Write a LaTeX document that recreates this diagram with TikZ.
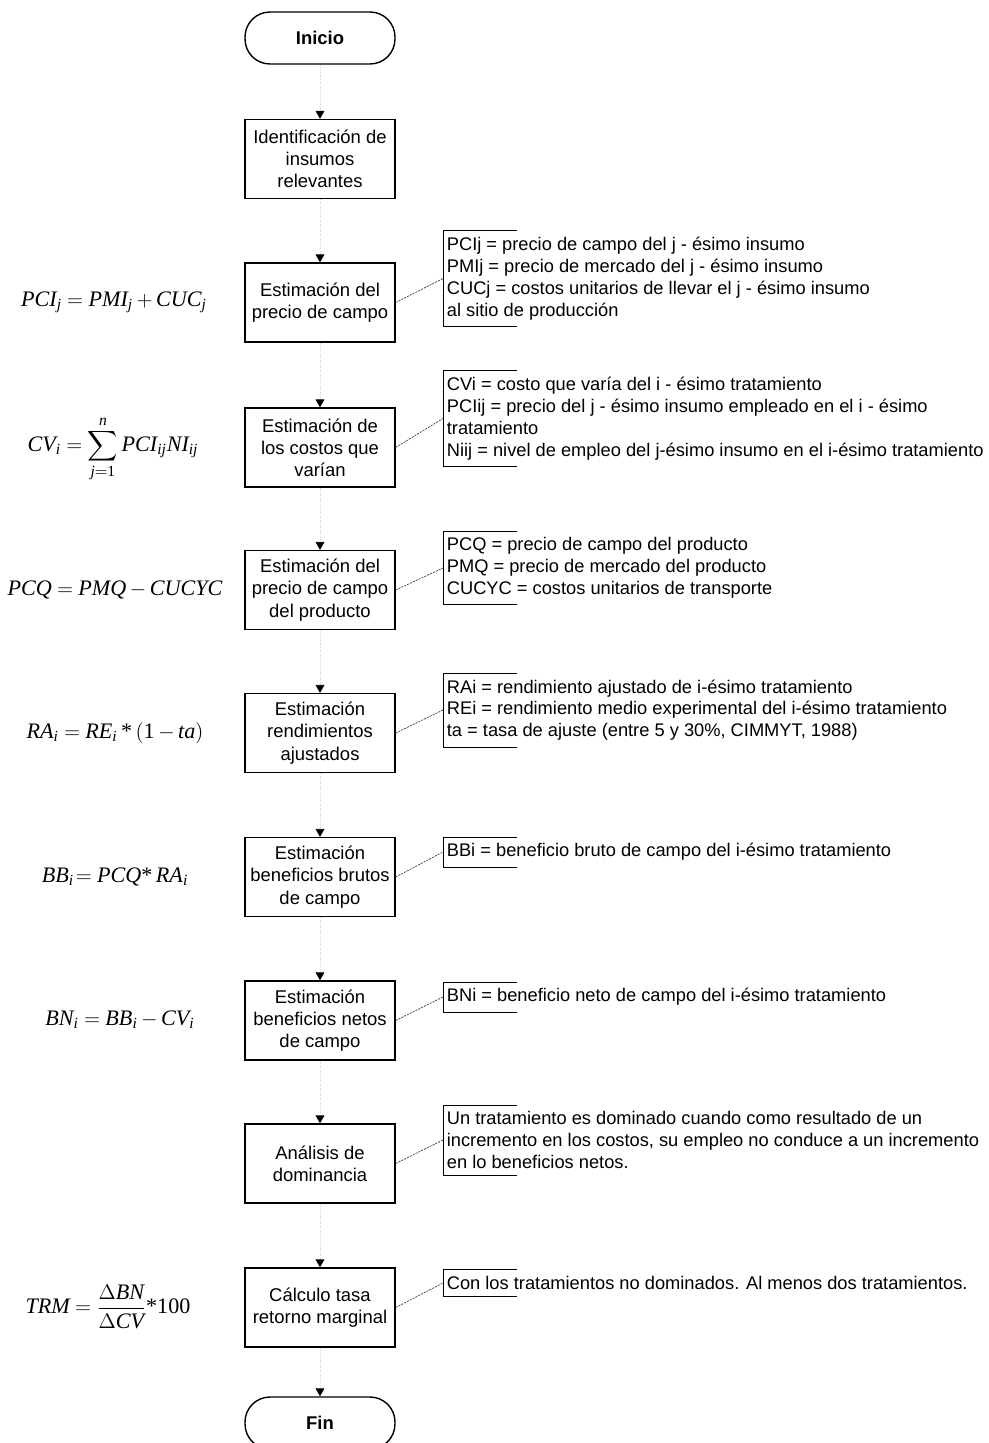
\documentclass[tikz,border=0pt]{standalone}
\usepackage{amsmath}
\usepackage[no-math]{fontspec}
\setmainfont{Liberation Sans}
\newfontfamily\tnr{Liberation Serif}
\newcommand\fv[1]{\text{\tnr\itshape #1}}
\newcommand\fn[1]{\text{\tnr\upshape #1}}
\newcommand\apretar{\thickmuskip=4.5mu\relax\medmuskip=3mu\relax}
\usetikzlibrary{arrows.meta}

\begin{document}
\begin{tikzpicture}[x=0.02cm,y=-0.02cm,
  paso/.style={draw,line width=0.8pt,minimum width=3cm,minimum height=1.58cm,align=center,inner sep=2pt,font=\fontsize{10.5}{12.6}\selectfont},
  term/.style={draw,line width=0.8pt,rounded corners=0.5cm,minimum width=3cm,minimum height=1.04cm,font=\fontsize{10.5}{12.6}\selectfont\bfseries},
  nota/.style={anchor=west,align=left,inner xsep=2pt,inner ysep=3.5pt,font=\fontsize{10.4}{12.4}\selectfont},
  formula/.style={font=\fontsize{12.6}{15}\selectfont\apretar},
  flecha/.style={gray!40,densely dotted,-{Triangle[color=black,width=5pt,length=4.5pt]}},
  enlace/.style={black!75,dash pattern=on 1.2pt off 0.6pt}]
\useasboundingbox (0,0) rectangle (989,1443);

% columna central
\node[term] (ini) at (320,38) {Inicio};
\node[paso] (ident) at (320,159) {Identificación de\\insumos\\relevantes};
\node[paso] (pcampo) at (320,302.5) {Estimación del\\precio de campo};
\node[paso] (costos) at (320,447.5) {Estimación de\\los costos que\\varían};
\node[paso] (pprod) at (320,590) {Estimación del\\precio de campo\\del producto};
\node[paso] (rend) at (320,733) {Estimación\\rendimientos\\ajustados};
\node[paso] (bbruto) at (320,877) {Estimación\\beneficios brutos\\de campo};
\node[paso] (bneto) at (320,1020.5) {Estimación\\beneficios netos\\de campo};
\node[paso] (domin) at (320,1163.5) {Análisis de\\dominancia};
\node[paso] (trm) at (320,1307.5) {Cálculo tasa\\retorno marginal};
\node[term] (fin) at (320,1423) {Fin};

\foreach \a/\b in {ini/ident,ident/pcampo,pcampo/costos,costos/pprod,pprod/rend,rend/bbruto,bbruto/bneto,bneto/domin,domin/trm,trm/fin}
  \draw[flecha] (\a) -- (\b);

% formulas
\node[formula] (f-pci) at (114,302) {$\fv{PCI}_{\fv{j}} = \fv{PMI}_{\fv{j}} + \fv{CUC}_{\fv{j}}$};
\node[formula] (f-cv) at (113,449) {$\fv{CV}_{\fv{i}} = \displaystyle\sum_{\fv{j}=\fn{1}}^{\fv{n}} \fv{PCI}_{\fv{ij}}\fv{NI}_{\fv{ij}}$};
\node[formula] (f-pcq) at (115,590) {$\fv{PCQ} = \fv{PMQ} - \fv{CUCYC}$};
\node[formula] (f-ra) at (115,733) {$\fv{RA}_{\fv{i}} = \fv{RE}_{\fv{i}}\,\fn{*}\,(\fn{1} - \fv{ta})$};
\node[formula] (f-bb) at (115,877) {$\fv{BB}_{\fv{i}}\!= \fv{PCQ}\fn{*}\,\fv{RA}_{\fv{i}}$};
\node[formula] (f-bn) at (120,1020) {$\fv{BN}_{\fv{i}} = \fv{BB}_{\fv{i}} - \fv{CV}_{\fv{i}}$};
\node[formula] (f-trm) at (108,1307) {$\fv{TRM} = \dfrac{\Delta\fv{BN}}{\Delta\fv{CV}}\fn{*100}$};

% notas
\node[nota] (n-pci) at (443,278.5) {PCIj = precio de campo del j - ésimo insumo\\PMIj = precio de mercado del j - ésimo insumo\\CUCj = costos unitarios de llevar el j - ésimo insumo\\al sitio de producción};
\node[nota] (n-cv) at (443,418.5) {CVi = costo que varía del i - ésimo tratamiento\\PCIij = precio del j - ésimo insumo empleado en el i - ésimo\\tratamiento\\Niij = nivel de empleo del j-ésimo insumo en el i-ésimo tratamiento};
\node[nota] (n-pcq) at (443,568) {PCQ = precio de campo del producto\\PMQ = precio de mercado del producto\\CUCYC = costos unitarios de transporte};
\node[nota] (n-ra) at (443,710) {RAi = rendimiento ajustado de i-ésimo tratamiento\\REi = rendimiento medio experimental del i-ésimo tratamiento\\ta = tasa de ajuste (entre 5 y 30\%, CIMMYT, 1988)};
\node[nota] (n-bb) at (443,852) {BBi = beneficio bruto de campo del i-ésimo tratamiento};
\node[nota] (n-bn) at (443,997) {BNi = beneficio neto de campo del i-ésimo tratamiento};
\node[nota] (n-dom) at (443,1140) {Un tratamiento es dominado cuando como resultado de un\\incremento en los costos, su empleo no conduce a un incremento\\en lo beneficios netos.};
\node[nota] (n-trm) at (443,1283) {Con los tratamientos no dominados. Al menos dos tratamientos.};

\foreach \n in {n-pci,n-cv,n-pcq,n-ra,n-bb,n-bn,n-dom,n-trm}
  \draw (\n.north west) ++(74,0) -- (\n.north west) -- (\n.south west) -- ++(74,0);

\foreach \a/\b in {pcampo/n-pci,costos/n-cv,pprod/n-pcq,rend/n-ra,bbruto/n-bb,bneto/n-bn,domin/n-dom,trm/n-trm}
  \draw[enlace] (\a.east) -- (\b.west);
\end{tikzpicture}
\end{document}
